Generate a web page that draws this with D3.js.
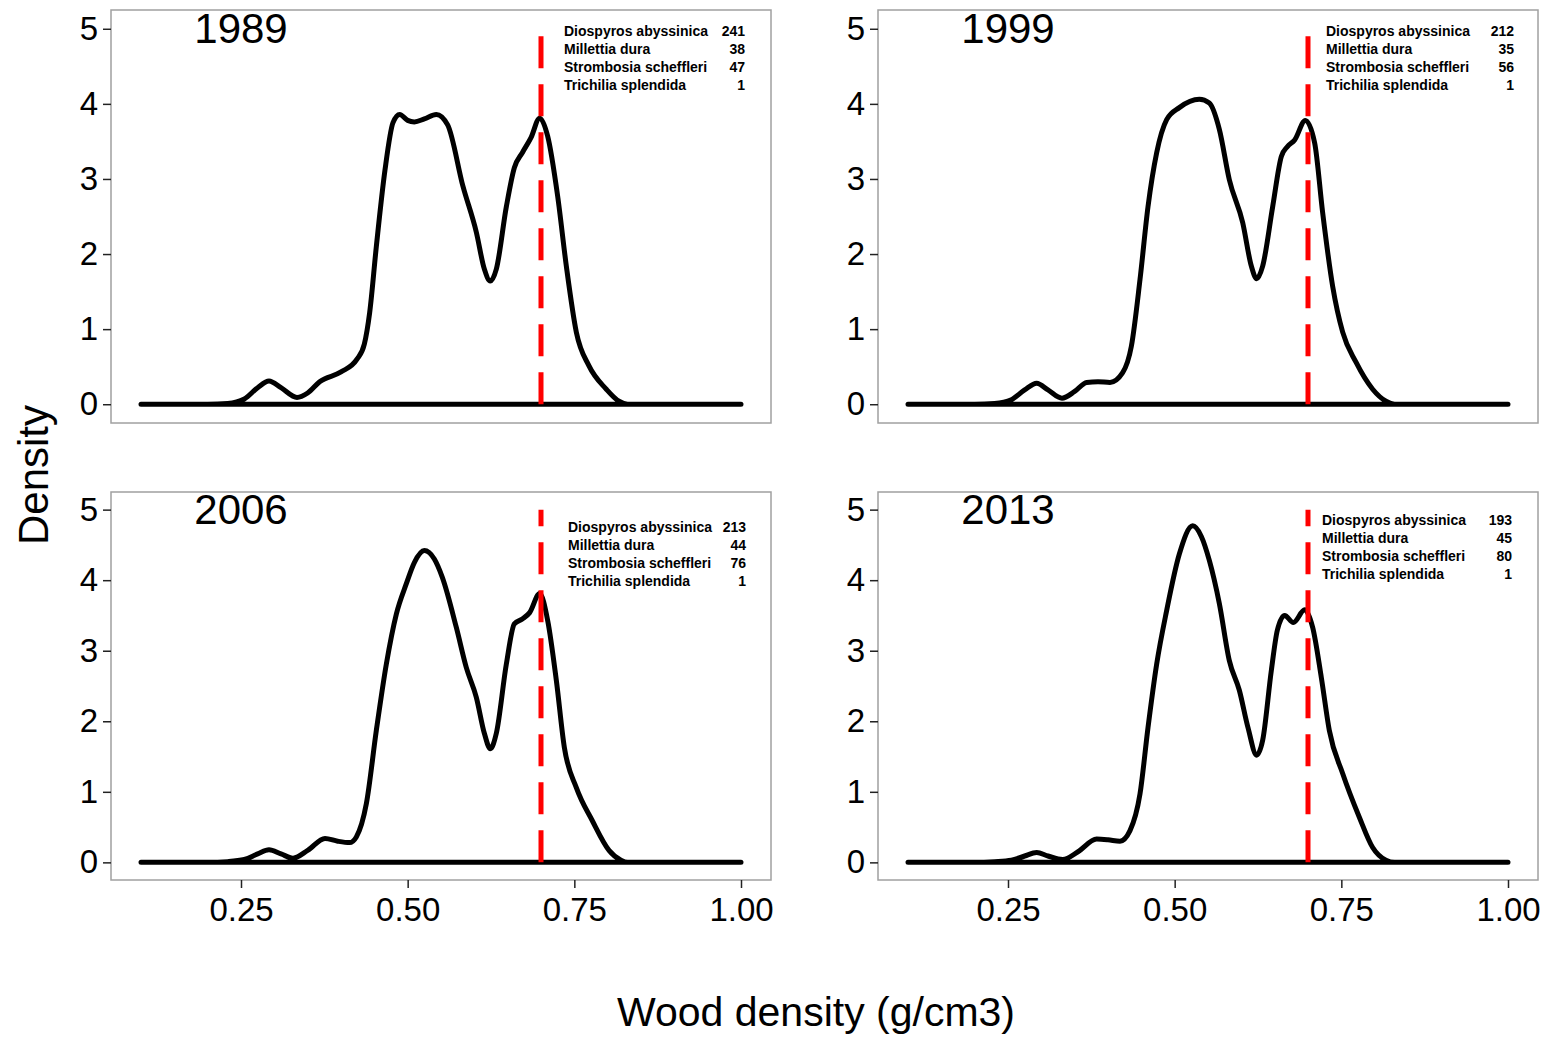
<!DOCTYPE html>
<html><head><meta charset="utf-8">
<script src="https://cdn.jsdelivr.net/npm/d3@7"></script>
<style>body{margin:0;background:#fff} svg{display:block}</style>
</head><body>
<svg id="c" width="1549" height="1037"></svg>
<script>
// ---------------- data ----------------
const years = ["1989", "1999", "2006", "2013"];
const species = ["Diospyros abyssinica", "Millettia dura", "Strombosia scheffleri", "Trichilia splendida"];
const counts1989 = [241, 38, 47, 1];
const counts1999 = [212, 35, 56, 1];
const counts2006 = [213, 44, 76, 1];
const counts2013 = [193, 45, 80, 1];
const xTicks = [0.25, 0.5, 0.75, 1.0];
const xTickLabels = ["0.25", "0.50", "0.75", "1.00"];
const yTicks = [0, 1, 2, 3, 4, 5];
const refLine = 0.7;

const dens1989X = [0.10,0.20,0.23,0.255,0.275,0.292,0.31,0.334,0.35,0.368,0.40,0.424,0.435,0.443,0.453,0.466,0.478,0.488,0.50,0.51,0.525,0.543,0.56,0.583,0.603,0.615,0.624,0.633,0.648,0.66,0.672,0.685,0.698,0.71,0.725,0.738,0.753,0.772,0.798,0.817,0.83,0.90,1.00];
const dens1989Y = [0,0,0.01,0.07,0.22,0.31,0.22,0.09,0.15,0.30,0.43,0.60,0.80,1.22,2.10,3.12,3.75,3.86,3.78,3.76,3.80,3.86,3.72,2.90,2.29,1.80,1.64,1.80,2.63,3.15,3.35,3.55,3.81,3.57,2.77,1.84,0.96,0.51,0.20,0.04,0,0,0];

const dens1999X = [0.10,0.20,0.23,0.255,0.275,0.293,0.31,0.331,0.35,0.368,0.385,0.403,0.422,0.435,0.448,0.46,0.473,0.488,0.507,0.537,0.552,0.567,0.582,0.602,0.615,0.623,0.632,0.647,0.66,0.669,0.68,0.696,0.71,0.722,0.737,0.752,0.772,0.797,0.817,0.83,0.90,1.00];
const dens1999Y = [0,0,0.01,0.06,0.19,0.28,0.19,0.08,0.17,0.29,0.30,0.29,0.42,0.77,1.66,2.63,3.35,3.79,3.95,4.06,4.01,3.66,2.99,2.42,1.84,1.67,1.84,2.63,3.30,3.43,3.52,3.78,3.48,2.55,1.57,0.96,0.56,0.20,0.04,0,0,0];

const dens2006X = [0.10,0.20,0.23,0.255,0.275,0.292,0.31,0.328,0.35,0.376,0.395,0.413,0.423,0.438,0.453,0.468,0.483,0.498,0.51,0.525,0.54,0.552,0.573,0.588,0.603,0.615,0.624,0.633,0.648,0.66,0.672,0.683,0.698,0.71,0.723,0.735,0.753,0.777,0.802,0.82,0.83,0.90,1.00];
const dens2006Y = [0,0,0.01,0.04,0.12,0.18,0.12,0.06,0.17,0.34,0.30,0.28,0.36,0.83,1.87,2.81,3.52,3.95,4.25,4.42,4.30,4.04,3.33,2.76,2.34,1.83,1.61,1.83,2.81,3.38,3.45,3.54,3.81,3.43,2.58,1.63,1.06,0.59,0.17,0.03,0,0,0];

const dens2013X = [0.10,0.20,0.23,0.255,0.275,0.293,0.31,0.332,0.355,0.383,0.40,0.418,0.433,0.448,0.46,0.473,0.488,0.507,0.527,0.54,0.552,0.567,0.582,0.597,0.61,0.623,0.632,0.645,0.654,0.665,0.678,0.695,0.707,0.72,0.732,0.752,0.777,0.797,0.817,0.83,0.90,1.00];
const dens2013Y = [0,0,0.01,0.03,0.09,0.14,0.09,0.04,0.15,0.33,0.32,0.30,0.45,0.97,1.91,2.81,3.57,4.37,4.77,4.62,4.28,3.67,2.86,2.44,1.91,1.52,1.73,2.72,3.29,3.50,3.40,3.58,3.33,2.62,1.87,1.26,0.64,0.21,0.03,0,0,0];

// ---------------- layout ----------------
const FONT = "'Liberation Sans', Arial, Helvetica, sans-serif";
const panels = [
  {year: years[0], counts: counts1989, xs: dens1989X, ys: dens1989Y, x0: 111, y0: 10,  w: 660, h: 413, xAxis: false, legX: 453, legR: 634, legY: 21},
  {year: years[1], counts: counts1999, xs: dens1999X, ys: dens1999Y, x0: 878, y0: 10,  w: 660, h: 413, xAxis: false, legX: 448, legR: 636, legY: 21},
  {year: years[2], counts: counts2006, xs: dens2006X, ys: dens2006Y, x0: 111, y0: 492, w: 660, h: 388, xAxis: true,  legX: 457, legR: 635, legY: 35},
  {year: years[3], counts: counts2013, xs: dens2013X, ys: dens2013Y, x0: 878, y0: 492, w: 660, h: 388, xAxis: true,  legX: 444, legR: 634, legY: 28}
];

const svg = d3.select("#c");
svg.append("rect").attr("width", 1549).attr("height", 1037).attr("fill", "#fff");

panels.forEach(p => {
  const x = d3.scaleLinear().domain([0.055, 1.045]).range([p.x0, p.x0 + p.w]);
  const y = d3.scaleLinear().domain([-0.25, 5.25]).range([p.y0 + p.h, p.y0]);
  const g = svg.append("g");

  // frame
  g.append("rect").attr("x", p.x0).attr("y", p.y0).attr("width", p.w).attr("height", p.h)
    .attr("fill", "#fff").attr("stroke", "#a0a0a0").attr("stroke-width", 1.5);

  // axes
  const axes = [];
  axes.push(g.append("g").attr("transform", `translate(${p.x0},0)`)
    .call(d3.axisLeft(y).tickValues(yTicks).tickSize(8).tickPadding(5).tickFormat(d3.format("d"))));
  if (p.xAxis) {
    axes.push(g.append("g").attr("transform", `translate(0,${p.y0 + p.h})`)
      .call(d3.axisBottom(x).tickValues(xTicks).tickSize(8).tickPadding(10).tickFormat((d, i) => xTickLabels[i])));
  }
  axes.forEach(a => {
    a.select(".domain").remove();
    a.selectAll(".tick line").attr("stroke", "#222").attr("stroke-width", 1.5);
    a.selectAll(".tick text").attr("font-family", FONT).attr("font-size", 33).attr("fill", "#000");
  });

  // density curve (closed outline like geom_density)
  const data = p.xs.map((v, i) => [v, p.ys[i]]);
  const area = d3.area().x(d => x(d[0])).y0(y(0)).y1(d => y(d[1])).curve(d3.curveMonotoneX);
  g.append("path").datum(data).attr("d", area)
    .attr("fill", "none").attr("stroke", "#000").attr("stroke-width", 5)
    .attr("stroke-linejoin", "round").attr("stroke-linecap", "round");

  // reference line
  g.append("line").attr("x1", x(refLine)).attr("x2", x(refLine)).attr("y1", y(0)).attr("y2", y(5))
    .attr("stroke", "#ff0000").attr("stroke-width", 5).attr("stroke-dasharray", "32,16");

  // year title
  g.append("text").attr("x", x(0.25)).attr("y", y(5)).attr("dy", "0.35em")
    .attr("text-anchor", "middle").attr("font-family", FONT).attr("font-size", 42).text(p.year);

  // legend
  species.forEach((s, i) => {
    const ty = p.y0 + p.legY + i * 18;
    g.append("text").attr("x", p.x0 + p.legX).attr("y", ty).attr("dy", "0.35em")
      .attr("font-family", FONT).attr("font-weight", "bold").attr("font-size", 14).text(s);
    g.append("text").attr("x", p.x0 + p.legR).attr("y", ty).attr("dy", "0.35em").attr("text-anchor", "end")
      .attr("font-family", FONT).attr("font-weight", "bold").attr("font-size", 14).text(p.counts[i]);
  });
});

// axis titles
svg.append("text").attr("transform", "translate(33,475) rotate(-90)").attr("dy", "0.35em")
  .attr("text-anchor", "middle").attr("font-family", FONT).attr("font-size", 42).text("Density");
svg.append("text").attr("x", 816).attr("y", 1026)
  .attr("text-anchor", "middle").attr("font-family", FONT).attr("font-size", 41).text("Wood density (g/cm3)");
</script>
</body></html>
